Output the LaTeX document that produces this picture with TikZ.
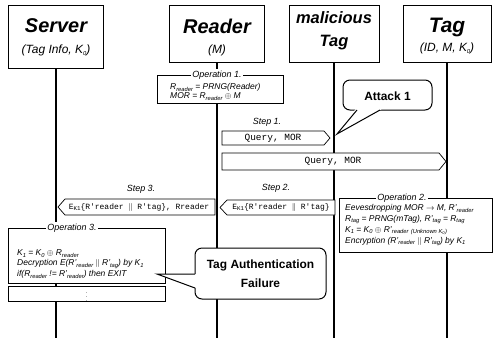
\documentclass[tikz,border=0pt]{standalone}
\usepackage{fontspec}
\setmainfont{Liberation Sans}
\setmonofont{Liberation Mono}
\newcommand\fs[1]{\fontsize{#1}{#1}\selectfont}
\newcommand\lo[1]{\raisebox{-0.35ex}{\fontsize{5.8}{5.8}\selectfont #1}}
\begin{document}
\begin{tikzpicture}[x=1bp,y=-1bp,
  life/.style={line width=1.7bp},
  hbox/.style={draw, line width=1bp, fill=white, inner sep=0},
  opbox/.style={draw, line width=0.7bp, fill=white, inner sep=0},
  blk/.style={draw, line width=0.7bp, fill=white, line join=miter},
  optxt/.style={anchor=west, inner sep=0, font=\fs{8.5}\itshape},
  oplab/.style={fill=white, inner sep=1.5bp, font=\fs{9}\itshape},
  steplab/.style={font=\fs{9}\itshape, inner sep=0},
  msg/.style={font=\fs{9.5}\ttfamily, inner sep=0},
  cbox/.style={draw, line width=1bp, fill=white, rounded corners=7bp, inner sep=0},
  calltxt/.style={font=\fs{12}\bfseries, align=center, inner sep=0},
  title/.style={inner sep=0, font=\bfseries\itshape},
  subt/.style={inner sep=0, font=\fs{12}\itshape}]
\useasboundingbox (0,0) rectangle (494,338);
\fill[white] (0,0) rectangle (494,338);

% lifelines
\coordinate (sTop) at (56,68);  \coordinate (sBot) at (56,338);
\coordinate (rTop) at (217,62); \coordinate (rBot) at (217,338);
\coordinate (mTop) at (334,62); \coordinate (mBot) at (334,338);
\coordinate (tTop) at (447,62); \coordinate (tBot) at (447,338);
\draw[life] (sTop) -- (sBot);
\draw[life] (rTop) -- (rBot);
\draw[life] (mTop) -- (mBot);
\draw[life] (tTop) -- (tBot);

% header boxes
\node[hbox, minimum width=94bp, minimum height=63bp] (server) at (56,36.5) {};
\node[hbox, minimum width=95bp, minimum height=57bp] (reader) at (217,33.5) {};
\node[hbox, minimum width=90bp, minimum height=57bp] (mal) at (334,33.5) {};
\node[hbox, minimum width=88bp, minimum height=57bp] (tag) at (447,33.5) {};
\node[title, font=\fs{20}\bfseries\itshape] (serverT) at (56,26) {Server};
\node[subt] (serverS) at (56,50) {(Tag Info, K\lo{0})};
\node[title, font=\fs{20}\bfseries\itshape] (readerT) at (217,26) {Reader};
\node[subt] (readerS) at (217,50) {(M)};
\node[title, font=\fs{16.5}\bfseries\itshape] (malA) at (334,18) {malicious};
\node[title, font=\fs{16.5}\bfseries\itshape] (malB) at (334,43) {Tag};
\node[title, font=\fs{21}\bfseries\itshape] (tagT) at (447,27) {Tag};
\node[subt] (tagS) at (447,48) {(ID, M, K\lo{0})};

% Operation 1
\node[opbox, minimum width=126bp, minimum height=28bp] (op1) at (220,89) {};
\node[oplab] (op1lab) at (217,75) {Operation 1.};
\node[optxt] (op1a) at (170,87.5) {R\lo{reader} = PRNG(Reader)};
\node[optxt] (op1b) at (170,96.5) {MOR = R\lo{reader} $\oplus$ M};

% Step 1
\node[steplab] (s1lab) at (267,122) {Step 1.};
\draw[blk] (222,131) -- (324,131) -- (330,138) -- (324,145) -- (222,145) -- cycle;
\node[msg] (s1txt) at (273,138) {Query, MOR};

% Query to Tag
\draw[blk] (222,153) -- (439,153) -- (446,161.5) -- (439,170) -- (222,170) -- cycle;
\node[msg] (q2txt) at (333,161.5) {Query, MOR};

% Attack 1 callout
\node[cbox, minimum width=89bp, minimum height=30bp] (att) at (387.5,95) {};
\fill[white] (355.5,109.2) -- (337,134) -- (381.5,109.2) -- cycle;
\coordinate (attTip) at (337,134);
\draw[line width=1bp] (357,110) -- (attTip) -- (380,110);
\node[calltxt] (attT) at (387.5,96) {Attack 1};

% Step 2
\node[steplab] (s2lab) at (276,188) {Step 2.};
\draw[blk] (220,207.5) -- (227,200) -- (335,200) -- (335,215) -- (227,215) -- cycle;
\node[msg, font=\fs{8}\ttfamily] (s2txt) at (281,207.5) {E\lo{K1}\{R'reader $\|$ R'tag\}};

% Step 3
\node[steplab] (s3lab) at (141,189) {Step 3.};
\draw[blk] (58,207) -- (65,199) -- (215,199) -- (215,215) -- (65,215) -- cycle;
\node[msg, font=\fs{8}\ttfamily] (s3txt) at (139,207) {E\lo{K1}\{R'reader $\|$ R'tag\}, Rreader};

% Operation 2
\node[opbox, minimum width=153bp, minimum height=54bp] (op2) at (415.5,225) {};
\node[oplab] (op2lab) at (402,198) {Operation 2.};
\node[optxt] (op2a) at (345,208.5) {Eevesdropping MOR $\rightarrow$ M, R'\lo{reader}};
\node[optxt] (op2b) at (345,219.5) {R\lo{tag} = PRNG(mTag), R'\lo{tag} = R\lo{tag}};
\node[optxt] (op2c) at (345,230.5) {K\lo{1} = K\lo{0} $\oplus$ R'\lo{reader} \lo{(Unknown K\textsubscript{0})}};
\node[optxt] (op2d) at (345,241.5) {Encryption (R'\lo{reader} $\|$ R'\lo{tag}) by K\lo{1}};

% Operation 3
\node[opbox, minimum width=157bp, minimum height=55bp] (op3) at (86.5,256) {};
\node[oplab] (op3lab) at (72,228) {Operation 3.};
\node[optxt] (op3a) at (17,253.5) {K\lo{1} = K\lo{0} $\oplus$ R\lo{reader}};
\node[optxt] (op3b) at (17,264) {Decryption E(R'\lo{reader} $\|$ R'\lo{tag}) by K\lo{1}};
\node[optxt] (op3c) at (17,274.5) {if(R\lo{reader} != R'\lo{reader}) then EXIT};

% dots box
\node[opbox, minimum width=157bp, minimum height=11bp, font=\fs{5.5}] (dots) at (86.5,294) {$\vdots$};

% Tag Authentication Failure callout
\node[cbox, minimum width=131bp, minimum height=51bp] (taf) at (260.5,273.5) {};
\fill[white] (196,274) -- (157,274) -- (196,288) -- cycle;
\coordinate (tafTip) at (157,274);
\draw[line width=1bp] (195,274) -- (tafTip) -- (195,288);
\node[calltxt] (tafT) at (260.5,265) {Tag Authentication};
\node[calltxt] (tafF) at (260.5,283) {Failure};
\end{tikzpicture}
\end{document}
